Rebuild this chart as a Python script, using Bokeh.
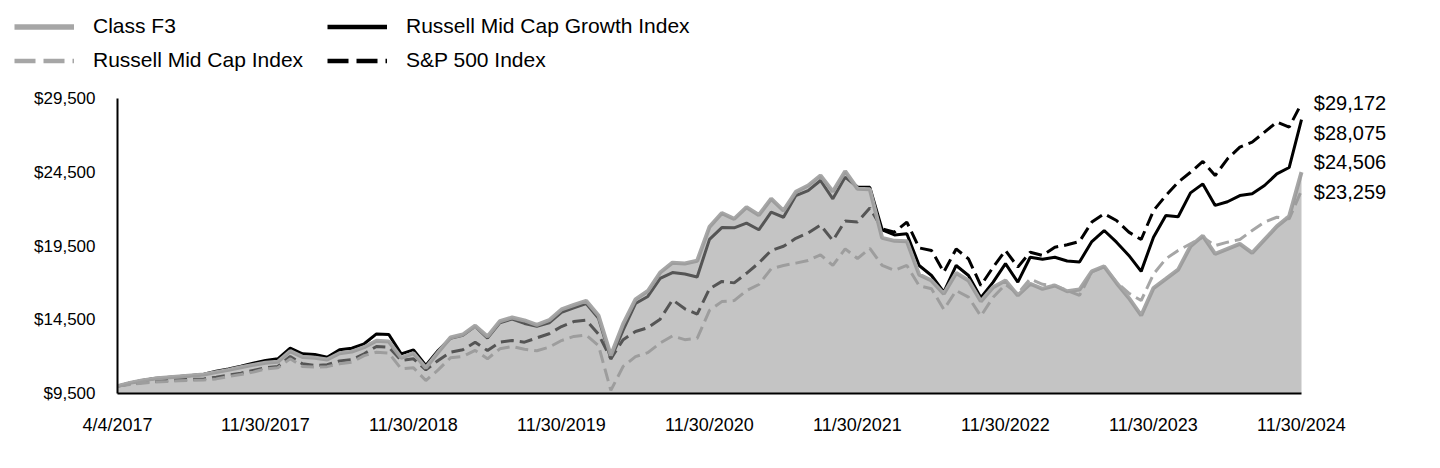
from bokeh.plotting import figure
from bokeh.layouts import column
from bokeh.models import (Range1d, FixedTicker, NumeralTickFormatter, Legend,
                          LegendItem, ColumnDataSource)
from bokeh.embed import file_html
from bokeh.resources import INLINE
from bokeh.core.properties import value

tick_labels = ["4/4/2017", "11/30/2017", "11/30/2018", "11/30/2019", "11/30/2020",
               "11/30/2021", "11/30/2022", "11/30/2023", "11/30/2024"]

class_f3 = [10000, 10220, 10380, 10510, 10580, 10650, 10720, 10790, 10950, 11100,
            11280, 11440, 11580, 11650, 12370, 11980, 11930, 11800, 12230, 12340,
            12640, 13080, 13030, 11920, 12230, 11240, 12300, 13300, 13500, 14100,
            13360, 14400, 14650, 14450, 14150, 14470, 15200, 15500, 15780, 14790,
            12080, 14220, 15880, 16450, 17700, 18370, 18310, 18500, 20800, 21730,
            21340, 22130, 21600, 22700, 21900, 23170, 23600, 24280, 23200, 24570,
            23380, 23350, 20050, 19850, 19830, 17560, 17160, 16260, 17670, 17160,
            15750, 16710, 17160, 16150, 16940, 16600, 16820, 16430, 16550, 17780,
            18120, 17000, 15980, 14790, 16650, 17270, 17900, 19480, 20190, 18970,
            19310, 19650, 19030, 19930, 20830, 21510, 24506]

mid_cap_growth = [10000, 10220, 10380, 10510, 10580, 10650, 10720, 10810, 11010, 11170,
                  11350, 11560, 11740, 11850, 12570, 12190, 12140, 11960, 12460, 12570,
                  12870, 13540, 13500, 12190, 12460, 11400, 12410, 13250, 13450, 14050,
                  13250, 14300, 14550, 14250, 14050, 14290, 15000, 15300, 15600, 14600,
                  11850, 13800, 15600, 16080, 17300, 17700, 17600, 17400, 19950, 20750,
                  20730, 21050, 20600, 21790, 21450, 22920, 23260, 23940, 22700, 24170,
                  23500, 23480, 20600, 20250, 20330, 18180, 17500, 16370, 18180, 17500,
                  16000, 17050, 18300, 17050, 18740, 18600, 18740, 18480, 18420, 19800,
                  20550, 19760, 18860, 17780, 20100, 21570, 21480, 23100, 23710, 22250,
                  22500, 22920, 23040, 23600, 24390, 24820, 28075]

mid_cap = [10000, 10110, 10200, 10270, 10310, 10360, 10400, 10420, 10490, 10650,
           10790, 10950, 11170, 11240, 11850, 11330, 11290, 11320, 11510, 11620,
           12070, 12300, 12240, 11170, 11240, 10380, 11100, 11920, 12010, 12420,
           11850, 12530, 12690, 12500, 12400, 12640, 13090, 13370, 13460, 12750,
           9710, 11340, 12000, 12270, 12920, 13400, 13150, 13240, 15130, 15730,
           15800, 16480, 16890, 17950, 18180, 18340, 18520, 18900, 18180, 19310,
           18650, 19340, 18180, 17840, 18180, 16800, 16600, 15200, 16480, 16030,
           14750, 16030, 16900, 16260, 17270, 16900, 16820, 16480, 16150, 17750,
           18100, 17050, 16300, 15800, 17600, 18630, 19200, 19650, 20100, 19530,
           19760, 19940, 20550, 21120, 21450, 21340, 23259]

sp500 = [10000, 10150, 10250, 10310, 10380, 10430, 10470, 10490, 10610, 10740,
         10880, 11060, 11240, 11330, 12010, 11510, 11400, 11450, 11700, 11800,
         12190, 12690, 12640, 11740, 11850, 11100, 11740, 12300, 12460, 12980,
         12410, 12980, 13090, 12980, 13270, 13550, 14040, 14380, 14470, 13520,
         11850, 13150, 13700, 13960, 14540, 15850, 15240, 14880, 16600, 17100,
         17000, 17650, 18350, 19200, 19480, 20020, 20380, 20920, 19870, 21200,
         21120, 22080, 20660, 20440, 21120, 19370, 19200, 17730, 19300, 18630,
         16820, 18070, 19200, 18070, 19080, 18860, 19420, 19580, 19810, 21120,
         21680, 21230, 20440, 19940, 21900, 22920, 23830, 24500, 25230, 24280,
         25410, 26200, 26540, 27220, 27900, 27560, 29172]

series_names = ["Class F3", "Russell Mid Cap Index",
                "Russell Mid Cap Growth Index", "S&P 500 Index"]

FONT = "Liberation Sans"
GREY = "#a6a6a6"
DASH = "13 6"
LEG_DASH = "21 8"
Y0, Y1 = 9500, 29500
n = len(class_f3)
last = n - 1
tick_step = last / (len(tick_labels) - 1)
tick_pos = [i * tick_step for i in range(len(tick_labels))]

FIG_W = 1432
LEFT, RIGHT, BOTTOM = 117, 16, 47
FRAME_W = FIG_W - LEFT - RIGHT     # 1299
DATA_W = 1184                      # px spanned by the data
FRAME_H = 313                      # frame height (page y 80..393)
AXIS_H = 295                       # px spanned by Y0..Y1
x_end = last * FRAME_W / DATA_W
y_end = Y0 + FRAME_H * (Y1 - Y0) / AXIS_H

style = {
    "Class F3": dict(line_color=GREY, line_width=4),
    "Russell Mid Cap Index": dict(line_color=GREY, line_width=3, line_dash=DASH),
    "Russell Mid Cap Growth Index": dict(line_color="black", line_width=3),
    "S&P 500 Index": dict(line_color="black", line_width=3, line_dash=DASH),
}
legend_style = {
    "Class F3": dict(line_color=GREY, line_width=5.5),
    "Russell Mid Cap Index": dict(line_color=GREY, line_width=4.5, line_dash=LEG_DASH),
    "Russell Mid Cap Growth Index": dict(line_color="black", line_width=4.5),
    "S&P 500 Index": dict(line_color="black", line_width=4.5, line_dash=LEG_DASH),
}

src = ColumnDataSource(dict(x=list(range(n)), f=class_f3, g=mid_cap_growth,
                            m=mid_cap, s=sp500, base=[Y0] * n))

p = figure(width=FIG_W, height=FRAME_H + BOTTOM, x_range=Range1d(0, x_end),
           y_range=Range1d(Y0, y_end), output_backend="svg", toolbar_location=None,
           min_border_left=LEFT, min_border_right=RIGHT, min_border_top=0,
           min_border_bottom=BOTTOM)
p.outline_line_color = None
p.xgrid.visible = False
p.ygrid.visible = False

p.line('x', 'g', source=src, **style["Russell Mid Cap Growth Index"])
p.line('x', 's', source=src, **style["S&P 500 Index"])
p.line('x', 'm', source=src, **style["Russell Mid Cap Index"])
p.line('x', 'f', source=src, **style["Class F3"])
p.varea('x', y1='base', y2='f', source=src, fill_color=(150, 150, 150), fill_alpha=0.565)

for ax in (p.xaxis[0], p.yaxis[0]):
    ax.axis_line_color = "black"
    ax.axis_line_width = 2
    ax.major_tick_line_color = None
    ax.minor_tick_line_color = None
    ax.major_tick_out = 0
    ax.major_tick_in = 0
    ax.major_label_text_font = FONT
    ax.major_label_text_color = "black"

p.xaxis.ticker = FixedTicker(ticks=tick_pos)
p.xaxis.major_label_overrides = {t: lab for t, lab in zip(tick_pos, tick_labels)}
p.xaxis.bounds = (0, last)
p.xaxis.major_label_text_font_size = "18px"
p.xaxis.major_label_standoff = 21

p.yaxis.ticker = FixedTicker(ticks=list(range(Y0, Y1 + 1, 5000)))
p.yaxis.formatter = NumeralTickFormatter(format="$0,0")
p.yaxis.bounds = (Y0, Y1)
p.yaxis.major_label_text_font_size = "17px"
p.yaxis.major_label_standoff = 22

# end value labels (stacked, highest first)
ends = sorted([class_f3[-1], mid_cap_growth[-1], mid_cap[-1], sp500[-1]], reverse=True)
gap = 2000
lab_y = [ends[0] - k * gap for k in range(len(ends))]
lab_x = [last + 1.0] * len(ends)
p.text(x=lab_x, y=lab_y, text=["${:,}".format(v) for v in ends],
       text_font=value(FONT), text_font_size="20px", text_baseline="middle",
       text_align="left", text_color="black")

# legend strip above the chart
LEG_H = 80
lf = figure(width=FIG_W, height=LEG_H, x_range=Range1d(0, 1), y_range=Range1d(0, 1),
            output_backend="svg", toolbar_location=None, min_border=0,
            x_axis_location=None, y_axis_location=None)
lf.outline_line_color = None
lf.xgrid.visible = False
lf.ygrid.visible = False
for fig in (lf, p):
    try:
        fig.frame_align = False
    except Exception:
        pass
dummy = {name: lf.line(x=[-10, -9], y=[-10, -10], **legend_style[name])
         for name in series_names}


def make_legend(names, loc):
    lg = Legend(items=[LegendItem(label=nm, renderers=[dummy[nm]]) for nm in names],
                location=loc, orientation="vertical")
    lg.glyph_width = 60
    lg.glyph_height = 23
    lg.label_height = 23
    lg.label_standoff = 19
    lg.spacing = 10
    lg.padding = 0
    lg.margin = 0
    lg.border_line_color = None
    lg.background_fill_alpha = 0
    lg.label_text_font = FONT
    lg.label_text_font_size = "21px"
    lg.label_text_color = "black"
    return lg


lf.add_layout(make_legend(series_names[:2], (14, 8)))
lf.add_layout(make_legend(series_names[2:], (327, 8)))

layout = column(lf, p, spacing=0)
open("out.html", "w").write(file_html(layout, INLINE))
